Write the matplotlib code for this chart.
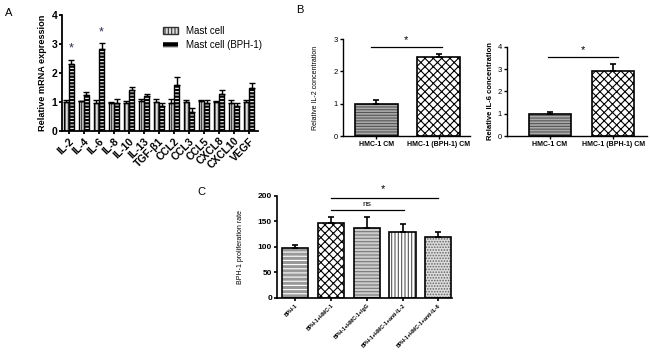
import matplotlib
matplotlib.use("Agg")
import matplotlib.pyplot as plt
import numpy as np
from matplotlib.patches import Patch

# Panel A data
genes = ["IL-2", "IL-4", "IL-6", "IL-8", "IL-10", "IL-13", "TGF-β1", "CCL2", "CCL3", "CCL5", "CXCL8", "CXCL10", "VEGF"]
mast = [1.0, 1.02, 0.97, 0.98, 0.98, 1.03, 1.0, 0.97, 1.0, 1.02, 1.0, 0.98, 1.0]
mast_err = [0.08, 0.03, 0.1, 0.03, 0.06, 0.08, 0.1, 0.15, 0.06, 0.04, 0.04, 0.08, 0.07]
bph = [2.32, 1.25, 2.82, 0.98, 1.42, 1.2, 0.87, 1.6, 0.65, 0.95, 1.28, 0.88, 1.47]
bph_err = [0.13, 0.1, 0.2, 0.14, 0.1, 0.07, 0.09, 0.25, 0.15, 0.12, 0.14, 0.08, 0.2]
series_names = ["Mast cell", "Mast cell (BPH-1)"]

# Panel B data
b_cats = ["HMC-1 CM", "HMC-1 (BPH-1) CM"]
il2_vals = [1.0, 2.45]
il2_err = [0.1, 0.1]
il6_vals = [1.0, 2.92]
il6_err = [0.1, 0.33]

# Panel C data
c_cats = ["BPH-1", "BPH-1+HMC-1", "BPH-1+HMC-1+IgG", "BPH-1+HMC-1+anti-IL-2", "BPH-1+HMC-1+anti-IL-6"]
c_vals = [98, 147, 137, 130, 119]
c_err = [5, 12, 22, 16, 10]

plt.rcParams['font.family'] = ['Liberation Sans', 'DejaVu Sans']
plt.rcParams['hatch.linewidth'] = 0.8

fig = plt.figure(figsize=(6.5, 3.58), dpi=100)


def style_ax(ax, lw=1.3):
    for s in ["top", "right"]:
        ax.spines[s].set_visible(False)
    for s in ["left", "bottom"]:
        ax.spines[s].set_linewidth(lw)
    ax.tick_params(direction="out", width=lw, length=2.5, pad=1)


def hbar(ax, x, h, w, face, hatch, hcolor, err=None, elw=1.2, lw=1.2):
    x = np.atleast_1d(x)
    h = np.atleast_1d(h)
    ax.bar(x, h, w, color=face, edgecolor=hcolor, hatch=hatch, linewidth=0, zorder=2)
    ax.bar(x, h, w, facecolor="none", edgecolor="black", linewidth=lw, zorder=3)
    if err is not None:
        err = np.atleast_1d(err)
        ax.errorbar(x, h, yerr=[np.zeros_like(err), err], fmt="none",
                    ecolor="black", elinewidth=elw, capsize=2.5, capthick=elw, zorder=4)


# ---------- Panel A ----------
axA = fig.add_axes([0.0954, 0.634, 0.3015, 0.324])
x = np.arange(len(genes))
w = 0.34
hbar(axA, x - 0.18, mast, w, "#dddddd", "|||||", "#333333", mast_err, elw=1.0, lw=1.0)
hbar(axA, x + 0.18, bph, w, "black", "-----", "white", bph_err, elw=1.0, lw=1.0)
axA.set_xlim(-0.45, 12.6)
axA.set_ylim(0, 4)
axA.set_yticks([0, 1, 2, 3, 4])
axA.set_xticks(x)
axA.set_xticklabels(genes, rotation=45, ha="right", rotation_mode="anchor", fontsize=7.5, fontweight="bold")
for t in axA.get_yticklabels():
    t.set_fontweight("bold")
    t.set_fontsize(7.5)
axA.set_ylabel("Relative mRNA expression", fontsize=6.6, fontweight="bold", labelpad=3)
style_ax(axA)
for i in [0, 2]:
    axA.text(x[i] + 0.18, bph[i] + bph_err[i] + 0.18, "*", ha="center", va="bottom",
             fontsize=9, color="#2b2b55")
hA = [Patch(facecolor="#dddddd", edgecolor="#333333", hatch="|||||", linewidth=1.0),
      Patch(facecolor="black", edgecolor="white", hatch="---", linewidth=0)]
axA.legend(hA, series_names, loc="upper left", bbox_to_anchor=(0.47, 0.98), frameon=False,
           fontsize=7, handlelength=1.6, handleheight=0.7, handletextpad=0.8, labelspacing=0.45)
fig.text(0.008, 0.955, "A", fontsize=8)

# ---------- Panel B left ----------
axB1 = fig.add_axes([0.5277, 0.620, 0.195, 0.271])
xb = np.arange(2)
hbar(axB1, xb[0], il2_vals[0], 0.69, "#aaaaaa", "------", "#555555", il2_err[0])
hbar(axB1, xb[1], il2_vals[1], 0.69, "white", "xxxx", "black", il2_err[1])
axB1.set_xlim(-0.536, 1.496)
axB1.set_ylim(0, 3)
axB1.set_yticks([0, 1, 2, 3])
axB1.set_xticks(xb)
axB1.set_xticklabels(b_cats, fontsize=5, fontweight="bold")
for t in axB1.get_yticklabels():
    t.set_fontsize(5.5)
axB1.set_ylabel("Relative IL-2 concentration", fontsize=5, labelpad=11)
style_ax(axB1, 1.0)
axB1.plot([-0.09, 1.05], [2.75, 2.75], color="black", lw=0.9, clip_on=False)
axB1.text(0.48, 2.8, "*", ha="center", va="bottom", fontsize=8)
fig.text(0.455, 0.965, "B", fontsize=8)

# ---------- Panel B right ----------
axB2 = fig.add_axes([0.78, 0.620, 0.215, 0.249])
hbar(axB2, xb[0], il6_vals[0], 0.67, "#aaaaaa", "------", "#555555", il6_err[0])
hbar(axB2, xb[1], il6_vals[1], 0.67, "white", "xxxx", "black", il6_err[1])
axB2.set_xlim(-0.677, 1.53)
axB2.set_ylim(0, 4)
axB2.set_yticks([0, 1, 2, 3, 4])
axB2.set_xticks(xb)
axB2.set_xticklabels(b_cats, fontsize=5, fontweight="bold")
for t in axB2.get_yticklabels():
    t.set_fontsize(5.5)
axB2.set_ylabel("Relative IL-6 concentration", fontsize=5.5, fontweight="bold", labelpad=3)
style_ax(axB2, 1.0)
axB2.plot([-0.03, 1.07], [3.55, 3.55], color="black", lw=0.9, clip_on=False)
axB2.text(0.52, 3.65, "*", ha="center", va="bottom", fontsize=8)

# ---------- Panel C ----------
axC = fig.add_axes([0.426, 0.1676, 0.269, 0.285])
xc = np.arange(len(c_cats))
styles = [("#999999", "----", "white"), ("white", "xxxx", "black"), ("#cccccc", "-----", "#777777"),
          ("white", "|||||", "#555555"), ("#dddddd", "......", "#666666")]
for i in range(len(c_cats)):
    f, h, hc = styles[i]
    hbar(axC, xc[i], c_vals[i], 0.73, f, h, hc, c_err[i])
axC.set_xlim(-0.52, 4.38)
axC.set_ylim(0, 200)
axC.set_yticks([0, 50, 100, 150, 200])
axC.set_xticks(xc)
axC.set_xticklabels(c_cats, rotation=45, ha="right", rotation_mode="anchor", fontsize=3.8, fontweight="bold")
for t in axC.get_yticklabels():
    t.set_fontsize(6)
    t.set_fontweight("bold")
axC.set_ylabel("BPH-1 proliferation rate", fontsize=5, labelpad=10)
style_ax(axC, 1.2)
axC.plot([1, 3.05], [172, 172], color="black", lw=0.9, clip_on=False)
axC.text(2.0, 176, "ns", ha="center", va="bottom", fontsize=6)
axC.plot([1, 4.0], [196, 196], color="black", lw=0.9, clip_on=False)
axC.text(2.45, 203, "*", ha="center", va="bottom", fontsize=8)
fig.text(0.303, 0.455, "C", fontsize=8)

fig.savefig("out.png", dpi=100)
